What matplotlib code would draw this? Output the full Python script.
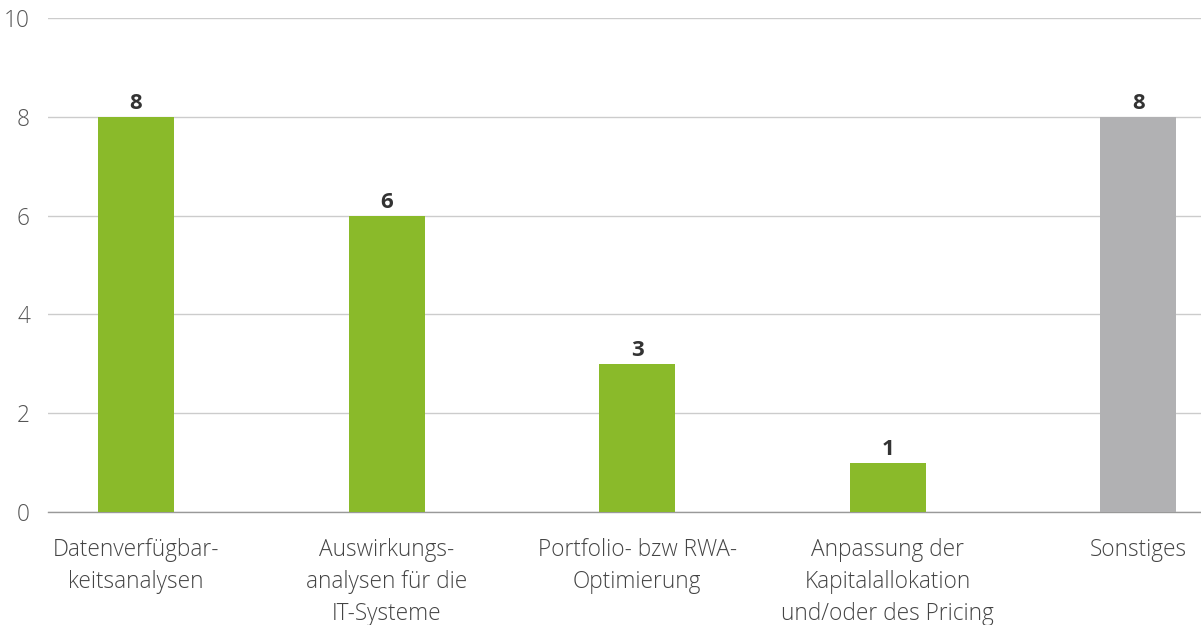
import matplotlib
matplotlib.use("Agg")
import matplotlib.pyplot as plt

categories = [
    "Datenverfügbar-\nkeitsanalysen",
    "Auswirkungs-\nanalysen für die\nIT-Systeme",
    "Portfolio- bzw RWA-\nOptimierung",
    "Anpassung der\nKapitalallokation\nund/oder des Pricing",
    "Sonstiges",
]
values = [8, 6, 3, 1, 8]
bar_colors = ["#8aba2a", "#8aba2a", "#8aba2a", "#8aba2a", "#b1b1b3"]
y_ticks = [0, 2, 4, 6, 8, 10]

plt.rcParams["font.family"] = ["Open Sans", "DejaVu Sans"]

fig = plt.figure(figsize=(12.01, 6.25), dpi=100)
ax = fig.add_axes([48 / 1201, 113 / 625, 1 - 48 / 1201, 494 / 625])

x = list(range(len(categories)))
ax.bar(x, values, width=0.303, color=bar_colors, zorder=3)

for xi, v in zip(x, values):
    ax.text(xi, v + 0.06, str(v), ha="center", va="bottom",
            fontsize=16, fontweight="bold", color="#333333")

ax.set_xlim(-0.351, 4.25)
ax.set_ylim(0, 10)
ax.set_yticks(y_ticks)
ax.set_yticklabels([str(t) for t in y_ticks], fontsize=16.3, fontweight="light", color="#555555")
ax.set_xticks(x)
ax.set_xticklabels(categories, fontsize=16.3, fontweight="light", color="#444444", linespacing=1.43)

ax.yaxis.grid(True, color="#cccccc", linewidth=1, zorder=0)
ax.tick_params(axis="both", length=0)
ax.tick_params(axis="y", pad=13)
ax.tick_params(axis="x", pad=19)
for side in ["top", "right", "left"]:
    ax.spines[side].set_visible(False)
ax.spines["bottom"].set_color("#999999")
ax.spines["bottom"].set_linewidth(1)

fig.savefig("out.png", dpi=100)
